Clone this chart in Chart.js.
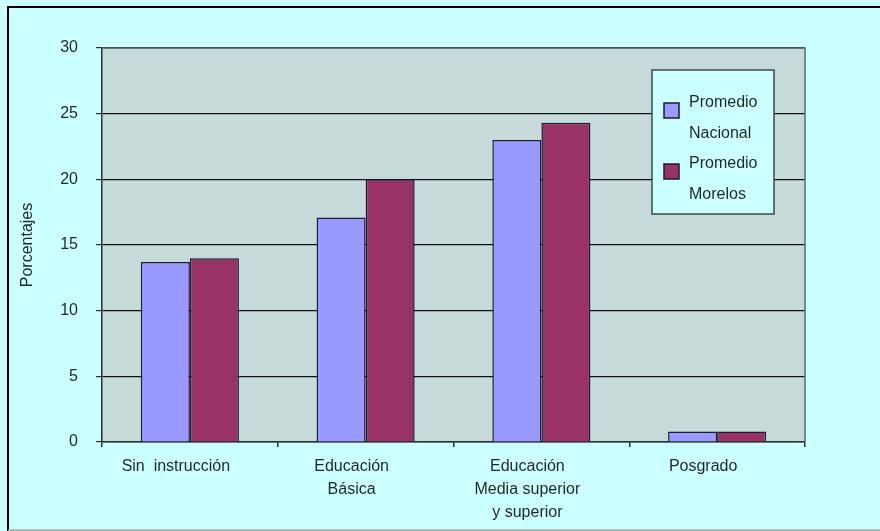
<!DOCTYPE html>
<html>
<head>
<meta charset="utf-8">
<script src="https://cdn.jsdelivr.net/npm/chart.js@4"></script>
<style>
  html, body { margin: 0; padding: 0; background: #ccffff; }
  #wrap { width: 880px; height: 531px; }
</style>
</head>
<body>
<div id="wrap"><canvas id="c" width="880" height="531"></canvas></div>
<script>
const categories = [
  "Sin  instrucción",
  ["Educación", "Básica"],
  ["Educación", "Media superior", "y superior"],
  "Posgrado"
];
const seriesNames = [["Promedio", "Nacional"], ["Promedio", "Morelos"]];
const nacional = [13.7, 17.1, 23.0, 0.8];
const morelos = [14.0, 20.0, 24.3, 0.8];
const yTicks = [0, 5, 10, 15, 20, 25, 30];

const TEXT = '#1e2828';
const FONT = "'Liberation Sans', Arial, sans-serif";

const framePlugin = {
  id: 'frame',
  beforeDraw(chart) {
    const ctx = chart.ctx, a = chart.chartArea;
    ctx.save();
    ctx.fillStyle = '#ccffff';
    ctx.fillRect(0, 0, chart.width, chart.height);
    ctx.fillStyle = '#c6dada';
    ctx.fillRect(a.left, a.top, a.right - a.left, a.bottom - a.top);
    ctx.strokeStyle = '#000';
    ctx.lineWidth = 2;
    ctx.beginPath();
    ctx.moveTo(8, chart.height); ctx.lineTo(8, 7); ctx.lineTo(chart.width, 7);
    ctx.stroke();
    ctx.strokeStyle = '#9aa8a8';
    ctx.lineWidth = 1.5;
    ctx.beginPath();
    ctx.moveTo(8, 530); ctx.lineTo(chart.width, 530);
    ctx.stroke();
    ctx.restore();
  },
  afterDatasetsDraw(chart) {
    const ctx = chart.ctx, a = chart.chartArea;
    ctx.save();
    ctx.strokeStyle = '#5d6b6b';
    ctx.lineWidth = 1.5;
    ctx.beginPath();
    ctx.moveTo(a.right, a.bottom); ctx.lineTo(a.right, a.top); ctx.lineTo(a.left, a.top);
    ctx.stroke();
    // legend box
    const bx = 652, by = 70, bw = 122, bh = 144;
    ctx.fillStyle = '#ccffff';
    ctx.fillRect(bx, by, bw, bh);
    ctx.strokeStyle = '#3d4a4a';
    ctx.lineWidth = 1.5;
    ctx.strokeRect(bx, by, bw, bh);
    ctx.font = '16px ' + FONT;
    ctx.textBaseline = 'middle';
    ctx.textAlign = 'left';
    chart.data.datasets.forEach((ds, i) => {
      const ly = 103 + i * 61;
      ctx.fillStyle = ds.backgroundColor;
      ctx.fillRect(664, ly, 15, 15);
      ctx.strokeStyle = '#1a1a33';
      ctx.lineWidth = 1.5;
      ctx.strokeRect(664, ly, 15, 15);
      ctx.fillStyle = TEXT;
      ds.label.forEach((t, j) => ctx.fillText(t, 689, ly + j * 31));
    });
    ctx.restore();
  }
};

new Chart(document.getElementById('c'), {
  type: 'bar',
  data: {
    labels: categories,
    datasets: [
      { label: seriesNames[0], data: nacional, backgroundColor: '#9999ff', borderColor: '#1a1a33', borderWidth: 1.5, categoryPercentage: 0.558, barPercentage: 1.0 },
      { label: seriesNames[1], data: morelos, backgroundColor: '#993366', borderColor: '#1a1a33', borderWidth: 1.5, categoryPercentage: 0.558, barPercentage: 1.0 }
    ]
  },
  options: {
    responsive: false,
    animation: false,
    devicePixelRatio: 1,
    layout: { padding: { left: 8, top: 48, right: 75, bottom: 0 } },
    plugins: { legend: { display: false }, tooltip: { enabled: false } },
    scales: {
      x: {
        afterFit(s) { s.height = 89; },
        grid: { display: true, drawOnChartArea: false, offset: true, tickLength: 5, color: '#2a2f33', lineWidth: 1.5 },
        border: { display: true, color: '#2a2f33', width: 1.5 },
        ticks: { color: TEXT, padding: 8, labelOffset: -14, font: { family: FONT, size: 16, lineHeight: 1.45 }, maxRotation: 0, autoSkip: false }
      },
      y: {
        min: 0, max: 30,
        afterFit(s) { s.width = 94; },
        afterBuildTicks(s) { s.ticks = yTicks.map(v => ({ value: v })); },
        grid: { color: '#111', lineWidth: 1.2, tickLength: 6, tickColor: '#2a2f33' },
        border: { display: true, color: '#2a2f33', width: 1.5 },
        ticks: { color: TEXT, padding: 18, font: { family: FONT, size: 16 } },
        title: { display: true, text: 'Porcentajes', color: TEXT, padding: { top: 10, bottom: 0 }, font: { family: FONT, size: 16 } }
      }
    }
  },
  plugins: [framePlugin]
});
</script>
</body>
</html>
